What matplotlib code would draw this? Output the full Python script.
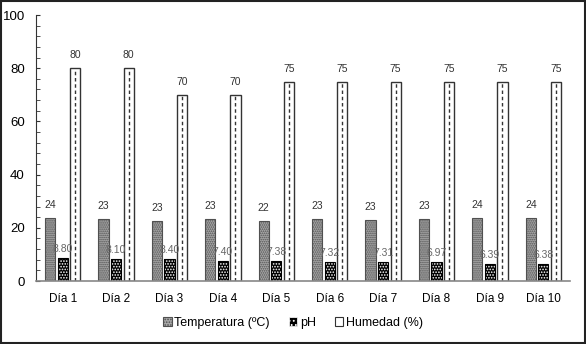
import numpy as np
import matplotlib.pyplot as plt
from matplotlib.ticker import MultipleLocator
from matplotlib.patches import Rectangle

dias = ['Día 1', 'Día 2', 'Día 3', 'Día 4', 'Día 5', 'Día 6', 'Día 7', 'Día 8', 'Día 9', 'Día 10']
temperatura = [23.8, 23.2, 22.6, 23.4, 22.4, 23.4, 23.0, 23.4, 23.8, 23.8]
ph = [8.80, 8.10, 8.40, 7.40, 7.38, 7.32, 7.31, 6.97, 6.39, 6.38]
humedad = [80, 80, 70, 70, 75, 75, 75, 75, 75, 75]

plt.rcParams['font.family'] = ['Liberation Sans', 'DejaVu Sans']
plt.rcParams['hatch.linewidth'] = 0.8

fig = plt.figure(figsize=(5.86, 3.44), dpi=100)
ax = fig.add_axes([36 / 586, 1 - 281 / 344, 534 / 586, 266 / 344])

x = np.arange(len(dias))
w = 0.19
gap = 0.045

# temperatura: gris punteado fino
ax.bar(x - w - gap, temperatura, w, color='#a8a8a8', edgecolor='#505050',
       hatch='........', linewidth=0.8)

# pH: negro con puntos blancos
ax.bar(x, ph, w, color='black', edgecolor='white', hatch='......', linewidth=0)
ax.bar(x, ph, w, color='none', edgecolor='black', linewidth=0.8)

# humedad: blanco con linea discontinua en el centro
ax.bar(x + w + gap, humedad, w, color='white', edgecolor='#333333', linewidth=1.0)
ax.vlines(x + w + gap, 0, humedad, colors='#333333', linestyles=(0, (2.5, 2)), linewidth=1.0)

for i in range(len(dias)):
    ax.text(x[i] - w - gap, temperatura[i] + 3, '%d' % round(temperatura[i]),
            ha='center', va='bottom', fontsize=7.5, color='#333333')
    ax.text(x[i], ph[i] + 1.5, '%.2f' % ph[i],
            ha='center', va='bottom', fontsize=7.5, color='#666666')
    ax.text(x[i] + w + gap, humedad[i] + 3, '%d' % humedad[i],
            ha='center', va='bottom', fontsize=7.5, color='#333333')

ax.set_xlim(-0.5, len(dias) - 0.5)
ax.set_ylim(0, 100)
ax.yaxis.set_major_locator(MultipleLocator(20))
ax.yaxis.set_minor_locator(MultipleLocator(4))
ax.tick_params(axis='y', which='both', direction='in', length=3, color='#333333',
               labelsize=9.5, pad=8)
ax.tick_params(axis='x', length=0, labelsize=8.5, pad=9)
ax.set_xticks(x)
ax.set_xticklabels(dias)

for s in ['top', 'right']:
    ax.spines[s].set_visible(False)
ax.spines['left'].set_color('#333333')
ax.spines['bottom'].set_color('#888888')
ax.spines['bottom'].set_linewidth(1.2)

h1 = Rectangle((0, 0), 1, 1, facecolor='#a8a8a8', edgecolor='#505050', hatch='......', linewidth=0.8)
h2 = Rectangle((0, 0), 1, 1, facecolor='black', edgecolor='white', hatch='....', linewidth=0.5)
h3 = Rectangle((0, 0), 1, 1, facecolor='white', edgecolor='#333333', linewidth=0.8)
fig.legend([h1, h2, h3], ['Temperatura (ºC)', 'pH', 'Humedad (%)'],
           loc='center', bbox_to_anchor=(0.5, 1 - 323 / 344), ncol=3, frameon=False,
           fontsize=9, handlelength=0.7, handleheight=0.7, handletextpad=0.2,
           columnspacing=1.5)

fig.patches.append(Rectangle((0.001, 0.002), 0.997, 0.995, transform=fig.transFigure,
                             fill=False, edgecolor='#222222', linewidth=1.5))

plt.savefig('out.png', dpi=100)
